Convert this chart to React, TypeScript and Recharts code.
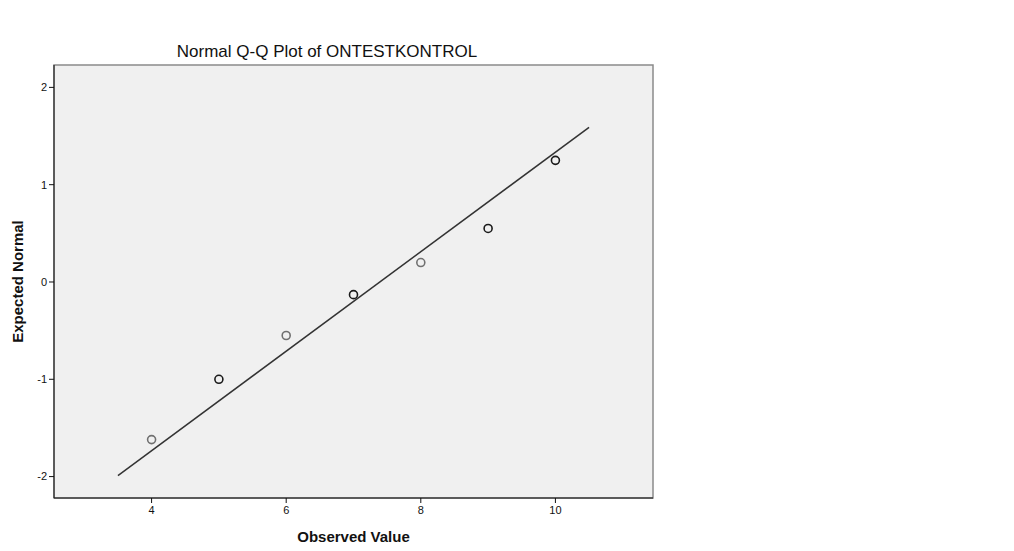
import { ScatterChart, Scatter, XAxis, YAxis, ReferenceArea } from 'recharts';

const observed = [4, 5, 6, 7, 8, 9, 10];
const expectedNormal = [-1.62, -1.0, -0.55, -0.13, 0.2, 0.55, 1.25];
// how many cases share each value (overlapping circles look darker)
const caseCount = [1, 2, 1, 2, 1, 2, 2];

// reference line end points
const lineX = [3.5, 10.5];
const lineY = [-1.99, 1.59];

const xTicks = [4, 6, 8, 10];
const yTicks = [-2, -1, 0, 1, 2];
const xDomain = [2.55, 11.45];
const yDomain = [-2.22, 2.23];

const points = observed.map((x, i) => ({ x, y: expectedNormal[i], n: caseCount[i] }));
const lineData = lineX.map((x, i) => ({ x, y: lineY[i] }));

const FONT = '"Liberation Sans", Arial, sans-serif';

const Ring = (props: any) => {
  const { cx, cy, payload } = props;
  if (cx == null || cy == null) return null;
  return (
    <circle
      cx={cx}
      cy={cy}
      r={4}
      fill="none"
      stroke={payload.n > 1 ? '#1a1a1a' : '#707070'}
      strokeWidth={1.6}
    />
  );
};

export default function App() {
  return (
    <div style={{ position: 'absolute', left: 0, top: 0, width: 1014, height: 551, background: '#fff', fontFamily: FONT }}>
      <div
        style={{
          position: 'absolute',
          left: 0,
          width: 654,
          top: 43,
          textAlign: 'center',
          fontSize: 17,
          lineHeight: '17px',
          color: '#111',
        }}
      >
        Normal Q-Q Plot of ONTESTKONTROL
      </div>
      <ScatterChart width={1014} height={551} margin={{ top: 65, right: 361, bottom: 0, left: 0 }}>
        <ReferenceArea
          x1={xDomain[0]}
          x2={xDomain[1]}
          y1={yDomain[0]}
          y2={yDomain[1]}
          fill="#f0f0f0"
          fillOpacity={1}
          stroke="#8a8a8a"
          strokeWidth={1.5}
        />
        <XAxis
          type="number"
          dataKey="x"
          domain={xDomain}
          ticks={xTicks}
          allowDataOverflow
          height={53}
          tickSize={5}
          tickMargin={3}
          stroke="#111"
          tick={{ fill: '#111', fontSize: 11, fontFamily: FONT }}
          label={{
            value: 'Observed Value',
            position: 'insideBottom',
            offset: 9,
            style: { fontWeight: 'bold', fontSize: 15, fill: '#111', fontFamily: FONT },
          }}
        />
        <YAxis
          type="number"
          dataKey="y"
          domain={yDomain}
          ticks={yTicks}
          allowDataOverflow
          width={54}
          tickSize={5}
          tickMargin={2}
          stroke="#111"
          tick={{ fill: '#111', fontSize: 11, fontFamily: FONT }}
          label={{
            value: 'Expected Normal',
            angle: -90,
            position: 'insideLeft',
            offset: 18,
            style: { textAnchor: 'middle', fontWeight: 'bold', fontSize: 15, fill: '#111', fontFamily: FONT },
          }}
        />
        <Scatter
          data={lineData}
          line={{ stroke: '#333', strokeWidth: 1.5 }}
          shape={() => null}
          isAnimationActive={false}
        />
        <Scatter data={points} shape={Ring} isAnimationActive={false} />
      </ScatterChart>
    </div>
  );
}
